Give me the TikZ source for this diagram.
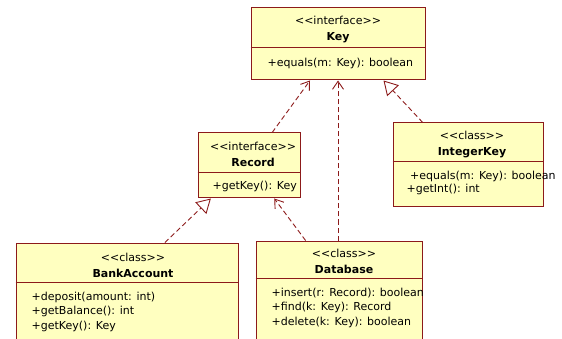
\documentclass[tikz,border=0pt]{standalone}
\usepackage{fontspec}
\setmainfont{DejaVu Sans}
\usetikzlibrary{arrows.meta, positioning, calc}
\definecolor{umlred}{HTML}{8C1A1A}
\definecolor{umlfill}{HTML}{FFFFC0}
\newcommand{\stereotype}[1]{<\kern0pt<#1>\kern0pt>}

\begin{document}
\begin{tikzpicture}[x=1pt, y=-1pt,
    umlbox/.style={rectangle, draw=umlred, fill=umlfill, line width=1pt, inner sep=0pt},
    head/.style={align=center, inner sep=0pt, font=\fontsize{11}{16}\selectfont},
    ops/.style={align=left, inner sep=0pt, font=\fontsize{11}{14.5}\selectfont},
    divider/.style={draw=umlred, line width=1pt},
    dep/.style={draw=umlred, line width=0.9pt, dash pattern=on 5pt off 3pt, -{Straight Barb[length=8pt, width=11pt]}},
    impl/.style={draw=umlred, line width=0.9pt, dash pattern=on 5pt off 3pt, -{Triangle[open, length=14pt, width=16pt]}}
]
    \useasboundingbox (0,0) rectangle (562,339);
    \clip (0,0) rectangle (562,339);

    % Boxes
    \node[umlbox, minimum width=174pt, minimum height=72pt] (key) at (338,44) {};
    \node[umlbox, minimum width=102pt, minimum height=65pt] (record) at (249,165.5) {};
    \node[umlbox, minimum width=150pt, minimum height=84pt] (intkey) at (468,165) {};
    \node[umlbox, minimum width=222pt, minimum height=110pt] (bank) at (127,298) {};
    \node[umlbox, minimum width=166pt, minimum height=112pt] (db) at (339,297) {};

    % Dividers
    \coordinate (keydiv) at ([yshift=-40pt]key.north west);
    \coordinate (recdiv) at ([yshift=-40pt]record.north west);
    \coordinate (intdiv) at ([yshift=-39pt]intkey.north west);
    \coordinate (bankdiv) at ([yshift=-40pt]bank.north west);
    \coordinate (dbdiv) at ([yshift=-38pt]db.north west);
    \draw[divider] (keydiv) -- (keydiv -| key.east);
    \draw[divider] (recdiv) -- (recdiv -| record.east);
    \draw[divider] (intdiv) -- (intdiv -| intkey.east);
    \draw[divider] (bankdiv) -- (bankdiv -| bank.east);
    \draw[divider] (dbdiv) -- (dbdiv -| db.east);

    % Names
    \node[head, below=8pt of key.north] (keyname) {\stereotype{interface}\\\textbf{Key}};
    \node[head, below=9pt of record.north, xshift=4pt] (recname) {\stereotype{interface}\\\textbf{Record}};
    \node[head, below=8pt of intkey.north, xshift=4pt] (intname) {\stereotype{class}\\\textbf{IntegerKey}};
    \node[head, below=10pt of bank.north, xshift=6pt] (bankname) {\stereotype{class}\\\textbf{BankAccount}};
    \node[head, below=8pt of db.north, xshift=5pt] (dbname) {\stereotype{class}\\\textbf{Database}};

    % Operations
    \node[ops, below right=10pt and 17pt of keydiv] (keyops) {+equals(m: Key): boolean};
    \node[ops, below right=8pt and 15pt of recdiv] (recops) {+getKey(): Key};
    \node[ops, below right=9pt and 14pt of intdiv, font=\fontsize{11}{13}\selectfont] (intops) {\ +equals(m: Key): boolean\\+getInt(): int};
    \node[ops, below right=9pt and 16pt of bankdiv] (bankops) {+deposit(amount: int)\\+getBalance(): int\\+getKey(): Key};
    \node[ops, below right=9pt and 16pt of dbdiv] (dbops) {+insert(r: Record): boolean\\+find(k: Key): Record\\+delete(k: Key): boolean};

    % Arrows
    \draw[dep] ($(record.north west)!0.725!(record.north east)$) -- ($(key.south west)!0.34!(key.south east)$);
    \draw[dep] (db.north -| key.south) -- (key.south);
    \draw[impl] ($(intkey.north west)!0.2!(intkey.north east)$) -- ($(key.south west)!0.76!(key.south east)$);
    \draw[impl] ($(bank.north west)!0.67!(bank.north east)$) -- ($(record.south west)!0.13!(record.south east)$);
    \draw[dep] ($(db.north west)!0.3!(db.north east)$) -- ($(record.south west)!0.745!(record.south east)$);
\end{tikzpicture}
\end{document}
